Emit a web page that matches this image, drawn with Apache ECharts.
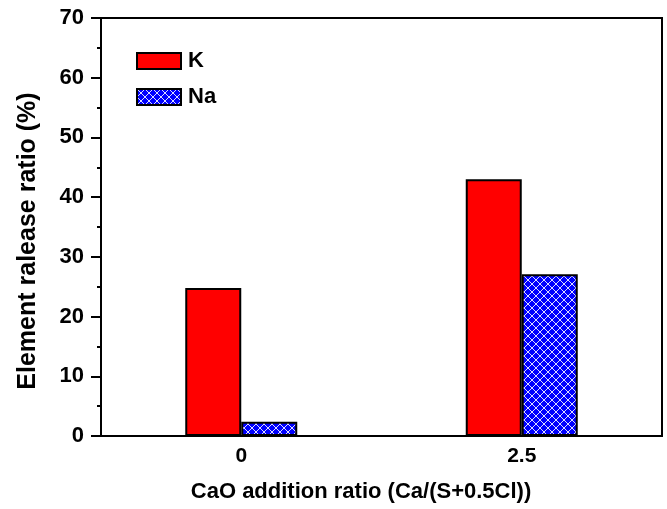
<!DOCTYPE html>
<html><head><meta charset="utf-8">
<script src="https://cdn.jsdelivr.net/npm/echarts@6/dist/echarts.min.js"></script>
<style>html,body{margin:0;padding:0;background:#fff}#c{width:667px;height:509px}</style>
</head><body><div id="c"></div>
<script>
var categories = ['0', '2.5'];
var kValues = [24.8, 43.0];
var naValues = [2.4, 27.1];
var yTicks = [0, 10, 20, 30, 40, 50, 60, 70];
var xTitle = 'CaO addition ratio (Ca/(S+0.5Cl))';
var yTitle = 'Element ralease ratio (%)';

var pc = document.createElement('canvas');
pc.width = 8; pc.height = 8;
var g = pc.getContext('2d');
g.fillStyle = '#0000ff'; g.fillRect(0, 0, 8, 8);
g.strokeStyle = '#dcdcff'; g.lineWidth = 1;
g.beginPath();
g.moveTo(0, 0); g.lineTo(8, 8);
g.moveTo(8, 0); g.lineTo(0, 8);
g.stroke();
var hatch = { image: pc, repeat: 'repeat' };

var font = 'Liberation Sans';
var chart = echarts.init(document.getElementById('c'));
chart.setOption({
  animation: false,
  grid: { left: 101, right: 5, top: 18, bottom: 73, show: true, borderColor: '#000', borderWidth: 2, backgroundColor: 'transparent' },
  legend: {
    orient: 'vertical', left: 136, top: 50, padding: 0, itemWidth: 44, itemHeight: 16, itemGap: 14,
    icon: 'rect',
    textStyle: { fontFamily: font, fontWeight: 'bold', fontSize: 22, color: '#000', padding: [0, 0, 0, 2] },
    data: ['K', 'Na']
  },
  graphic: [{
    type: 'text', x: 28, y: 241, rotation: Math.PI / 2,
    style: { text: yTitle, fill: '#000', font: 'bold 25px "Liberation Sans"', textAlign: 'center', textVerticalAlign: 'middle' }
  }, {
    type: 'text', x: 361, y: 492,
    style: { text: xTitle, fill: '#000', font: 'bold 22px "Liberation Sans"', textAlign: 'center', textVerticalAlign: 'middle' }
  }],
  xAxis: {
    type: 'category', data: categories,
    axisLine: { lineStyle: { color: '#000', width: 2 } },
    axisTick: { show: false },
    axisLabel: { color: '#000', fontFamily: font, fontWeight: 'bold', fontSize: 21, margin: 10 }
  },
  yAxis: {
    type: 'value', min: yTicks[0], max: yTicks[yTicks.length - 1], interval: 10,
    axisLine: { show: true, lineStyle: { color: '#000', width: 2 } },
    axisTick: { show: true, inside: false, length: 10, lineStyle: { width: 2 } },
    minorTick: { show: true, splitNumber: 2, length: 4, lineStyle: { color: '#000', width: 2 } },
    splitLine: { show: false },
    axisLabel: { color: '#000', fontFamily: font, fontWeight: 'bold', fontSize: 22, margin: 17 }
  },
  series: [
    { name: 'K', type: 'bar', data: kValues, barWidth: 56, barGap: '0%',
      itemStyle: { color: '#ff0000', borderColor: '#000', borderWidth: 2 } },
    { name: 'Na', type: 'bar', data: naValues, barWidth: 56,
      itemStyle: { color: hatch, borderColor: '#000', borderWidth: 2 } }
  ]
});
</script></body></html>
